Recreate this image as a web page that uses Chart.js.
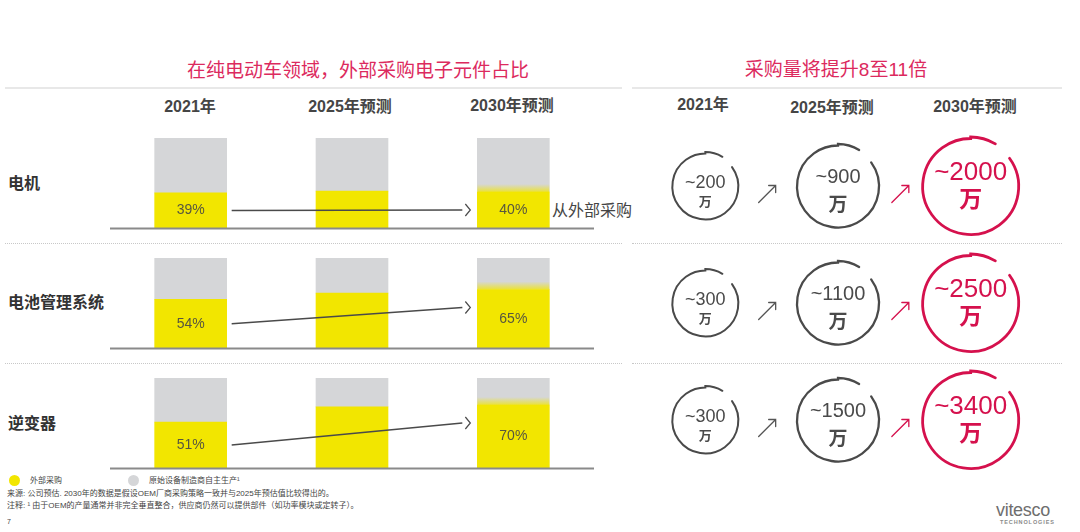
<!DOCTYPE html>
<html>
<head>
<meta charset="utf-8">
<script src="https://cdn.jsdelivr.net/npm/chart.js@4.4.1/dist/chart.umd.min.js"></script>
<style>
  body { margin: 0; background: #fff; font-family: "Liberation Sans", "Noto Sans CJK SC", sans-serif; }
  #page { position: relative; width: 1080px; height: 532px; overflow: hidden; background: #fff; }
  .abs { position: absolute; white-space: nowrap; line-height: 1; }
  .c { transform: translate(-50%, -50%); }
  .v { transform: translateY(-50%); }
  .title { color: #dc2a5e; font-size: 19px; }
  .hd { font-weight: bold; font-size: 16px; color: #454545; }
  .row { font-weight: bold; font-size: 16px; color: #333; }
  .rule { position: absolute; height: 0; border-top: 2px solid #e8e8e8; }
  .dots { position: absolute; height: 0; border-top: 1px dotted #c8c8c8; }
  .box { position: absolute; }
  .foot { font-size: 8px; color: #444; }
  .dot { position: absolute; width: 11px; height: 11px; border-radius: 50%; }
</style>
</head>
<body>
<div id="page">
  <div class="abs c title" style="left:358px;top:70px">在纯电动车领域，外部采购电子元件占比</div>
  <div class="abs c title" style="left:836px;top:69px">采购量将提升8至11倍</div>
  <div class="rule" style="left:5px;top:87px;width:617px"></div>
  <div class="rule" style="left:632px;top:87px;width:430px"></div>

  <div class="abs c hd" style="left:190px;top:107px">2021年</div>
  <div class="abs c hd" style="left:350px;top:107px">2025年预测</div>
  <div class="abs c hd" style="left:512px;top:106px">2030年预测</div>
  <div class="abs c hd" style="left:703px;top:105px">2021年</div>
  <div class="abs c hd" style="left:832px;top:108px">2025年预测</div>
  <div class="abs c hd" style="left:975px;top:107px">2030年预测</div>

  <div class="abs v row" style="left:8px;top:184px">电机</div>
  <div class="abs v row" style="left:8px;top:303px">电池管理系统</div>
  <div class="abs v row" style="left:8px;top:424px">逆变器</div>
  <div class="abs v" style="left:552px;top:211px;font-size:16px;color:#444">从外部采购</div>

  <div class="dots" style="left:5px;top:243px;width:617px"></div>
  <div class="dots" style="left:632px;top:243px;width:430px"></div>
  <div class="dots" style="left:5px;top:363px;width:617px"></div>
  <div class="dots" style="left:632px;top:363px;width:430px"></div>

  <div class="box" style="left:110px;top:134px;width:484px;height:98px"><canvas id="row0"></canvas></div>
  <div class="box" style="left:110px;top:254px;width:484px;height:98px"><canvas id="row1"></canvas></div>
  <div class="box" style="left:110px;top:374px;width:484px;height:98px"><canvas id="row2"></canvas></div>
  <div class="box" style="left:639px;top:128px;width:398px;height:351px"><canvas id="volumes"></canvas></div>

  <div class="dot" style="left:9px;top:475px;background:#f2e600"></div>
  <div class="abs v foot" style="left:30px;top:481px">外部采购</div>
  <div class="dot" style="left:128px;top:475px;background:#d5d6d8"></div>
  <div class="abs v foot" style="left:149px;top:481px">原始设备制造商自主生产¹</div>
  <div class="abs v foot" style="left:7px;top:494px">来源: 公司预估. 2030年的数据是假设OEM厂商采购策略一致并与2025年预估值比较得出的。</div>
  <div class="abs v foot" style="left:7px;top:506px">注释: ¹ 由于OEM的产量通常并非完全垂直整合，供应商仍然可以提供部件（如功率模块或定转子）。</div>
  <div class="abs v foot" style="left:7px;top:521px;font-size:7px">7</div>

  <div class="abs v" style="left:996px;top:510px;font-size:18px;color:#6e6e6e;letter-spacing:-0.3px">vitesco</div>
  <div class="abs v" style="left:1000px;top:523px;font-size:5.5px;font-weight:bold;color:#8a8a8a;letter-spacing:0.9px">TECHNOLOGIES</div>
</div>

<script>
const years = ['2021年', '2025年预测', '2030年预测'];
const components = ['电机', '电池管理系统', '逆变器'];

// share bought from external suppliers, %
const motorExternal = [39, 41, 40];
const bmsExternal = [54, 61, 65];
const inverterExternal = [51, 68, 70];

// purchase volume, 万 units
const volumes2021 = [200, 300, 300];
const volumes2025 = [900, 1100, 1500];
const volumes2030 = [2000, 2500, 3400];

const YELLOW = '#f2e600';
const GREY = '#d5d6d8';
const PINK = '#d5114d';
const DARK = '#4a4a4a';

Chart.defaults.font.family = '"Liberation Sans", "Noto Sans CJK SC", sans-serif';
Chart.defaults.animation = false;

const rowDecor = {
  id: 'rowDecor',
  afterDatasetsDraw(chart) {
    const { ctx, chartArea } = chart;
    const bars = chart.getDatasetMeta(0).data;
    const vals = chart.data.datasets[0].data;
    const mid = i => (bars[i].y + bars[i].base) / 2;
    ctx.save();

    // soft edge on top of the 2030 bar
    const b = bars[2];
    const g = ctx.createLinearGradient(0, b.y - 8, 0, b.y);
    g.addColorStop(0, 'rgba(242,230,0,0)');
    g.addColorStop(1, 'rgba(242,230,0,0.75)');
    ctx.fillStyle = g;
    ctx.fillRect(b.x - b.width / 2, b.y - 8, b.width, 8);

    ctx.font = '14px "Liberation Sans"';
    ctx.fillStyle = '#57563f';
    ctx.textAlign = 'center';
    ctx.textBaseline = 'middle';
    [0, 2].forEach(i => ctx.fillText(vals[i] + '%', bars[i].x, mid(i)));

    // trend line with chevron
    const x1 = bars[0].x + bars[0].width / 2 + 5;
    const x2 = bars[2].x - bars[2].width / 2 - 15;
    const y1 = mid(0);
    const y2 = bars[2].y + 18;
    ctx.strokeStyle = '#4a4a4a';
    ctx.lineWidth = 1.5;
    ctx.beginPath();
    ctx.moveTo(x1, y1);
    ctx.lineTo(x2, y2);
    ctx.stroke();
    ctx.lineWidth = 1.2;
    ctx.beginPath();
    ctx.moveTo(x2 + 3, y2 - 6);
    ctx.lineTo(x2 + 8, y2);
    ctx.lineTo(x2 + 3, y2 + 6);
    ctx.stroke();

    ctx.fillStyle = '#8a8a8a';
    ctx.fillRect(chartArea.left, chartArea.bottom - 0.5, chartArea.width, 2);
    ctx.restore();
  }
};

function rowChart(id, external) {
  return new Chart(document.getElementById(id), {
    type: 'bar',
    data: {
      labels: years,
      datasets: [
        { label: '外部采购', data: external, backgroundColor: YELLOW, barThickness: 72 },
        { label: '原始设备制造商自主生产', data: external.map(v => 100 - v), backgroundColor: GREY, barThickness: 72 }
      ]
    },
    options: {
      maintainAspectRatio: false,
      responsive: true,
      layout: { padding: { top: 4, bottom: 4, left: 0, right: 0 } },
      scales: {
        x: { stacked: true, display: false },
        y: { stacked: true, display: false, min: 0, max: 100 }
      },
      plugins: { legend: { display: false }, tooltip: { enabled: false } }
    },
    plugins: [rowDecor]
  });
}

rowChart('row0', motorExternal);
rowChart('row1', bmsExternal);
rowChart('row2', inverterExternal);

// right panel: hand-drawn rings
const ringR = [33, 41, 48];
const ringColor = [DARK, DARK, PINK];
const ringWidth = [2, 2.3, 2.8];
const numSize = [18, 20, 26];
const unitSize = [13, 19, 23];
const numDy = [-3, -9, -14];
const unitDy = [15, 17, 12];

const volumeCols = [volumes2021, volumes2025, volumes2030];

const ringDecor = {
  id: 'ringDecor',
  afterDatasetsDraw(chart) {
    const { ctx } = chart;
    ctx.save();
    const metas = [0, 1, 2].map(d => chart.getDatasetMeta(d).data);
    metas.forEach((pts, d) => {
      pts.forEach((p, i) => {
        const r = ringR[d];
        ctx.strokeStyle = ringColor[d];
        ctx.lineWidth = ringWidth[d];
        ctx.lineCap = 'round';
        // open ring, ends slightly apart at upper right like a pen stroke
        ctx.beginPath();
        ctx.arc(p.x, p.y, r, -Math.PI * 0.2, Math.PI * 1.5);
        ctx.ellipse(p.x, p.y, r + 0.5, r + 1.5, 0, Math.PI * 1.5, Math.PI * 1.67);
        ctx.stroke();

        ctx.fillStyle = ringColor[d];
        ctx.textAlign = 'center';
        ctx.textBaseline = 'middle';
        ctx.font = numSize[d] + 'px "Liberation Sans"';
        ctx.fillText('~' + chart.data.datasets[d].data[i].v, p.x, p.y + numDy[d]);
        ctx.font = 'bold ' + unitSize[d] + 'px "Noto Sans CJK SC"';
        ctx.fillText('万', p.x, p.y + unitDy[d]);
      });
    });
    // arrows between rings
    for (let i = 0; i < 3; i++) {
      [0, 1].forEach(d => {
        const a = metas[d][i], b = metas[d + 1][i];
        const cx = (a.x + ringR[d] + b.x - ringR[d + 1]) / 2;
        const cy = a.y + 7;
        ctx.strokeStyle = d === 0 ? '#555' : PINK;
        ctx.lineWidth = 1.3;
        ctx.beginPath();
        ctx.moveTo(cx - 9, cy + 9);
        ctx.lineTo(cx + 8, cy - 8);
        ctx.moveTo(cx + 1, cy - 8);
        ctx.lineTo(cx + 8, cy - 8);
        ctx.lineTo(cx + 8, cy - 1);
        ctx.stroke();
      });
    }
    ctx.restore();
  }
};

new Chart(document.getElementById('volumes'), {
  type: 'scatter',
  data: {
    datasets: volumeCols.map((vals, d) => ({
      label: years[d],
      data: vals.map((v, i) => ({ x: d, y: i, v: v })),
      pointRadius: ringR[d],
      pointBackgroundColor: 'rgba(0,0,0,0)',
      pointBorderWidth: 0,
      pointBorderColor: 'rgba(0,0,0,0)',
      clip: false
    }))
  },
  options: {
    maintainAspectRatio: false,
    responsive: true,
    layout: { padding: 0, autoPadding: false },
    scales: {
      x: { type: 'linear', min: -0.5, max: 2.5, display: false },
      y: { type: 'linear', min: -0.5, max: 2.5, reverse: true, display: false }
    },
    plugins: { legend: { display: false }, tooltip: { enabled: false } }
  },
  plugins: [ringDecor]
});
</script>
</body>
</html>
